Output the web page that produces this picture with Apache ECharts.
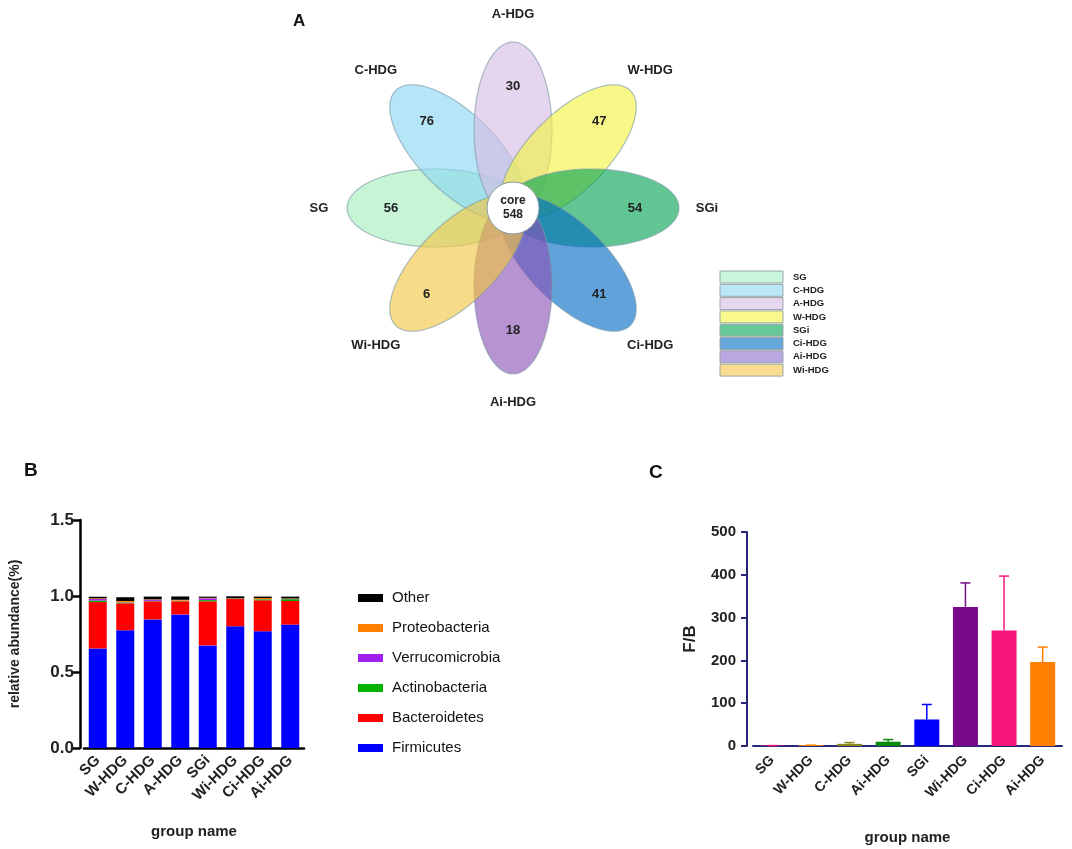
<!DOCTYPE html>
<html><head><meta charset="utf-8">
<script src="https://cdn.jsdelivr.net/npm/echarts@6/dist/echarts.min.js"></script>
<style>html,body{margin:0;padding:0;background:#fff}#c{width:1072px;height:849px}</style>
</head><body><div id="c"></div>
<script>
// ---- Panel A: flower Venn ----
const vennNames = ['SG','C-HDG','A-HDG','W-HDG','SGi','Ci-HDG','Ai-HDG','Wi-HDG'];
const vennCounts = [56,76,30,47,54,41,18,6];
const coreCount = 548;
// ---- Panel B: relative abundance ----
const groupsB = ['SG','W-HDG','C-HDG','A-HDG','SGi','Wi-HDG','Ci-HDG','Ai-HDG'];
const firmicutes      = [0.655,0.775,0.846,0.879,0.675,0.801,0.768,0.812];
const bacteroidetes   = [0.305,0.177,0.119,0.086,0.290,0.179,0.204,0.155];
const actinobacteria  = [0.010,0.005,0.003,0.002,0.008,0.002,0.006,0.012];
const verrucomicrobia = [0.010,0.002,0.007,0.002,0.012,0.001,0.001,0.001];
const proteobacteria  = [0.005,0.008,0.003,0.006,0.003,0.002,0.008,0.004];
const other           = [0.010,0.025,0.018,0.022,0.008,0.013,0.009,0.012];
const phylumNames = ['Firmicutes','Bacteroidetes','Actinobacteria','Verrucomicrobia','Proteobacteria','Other'];
const yTicksB = [0, 0.5, 1.0, 1.5];
// ---- Panel C: F/B ratio ----
const groupsC = ['SG','W-HDG','C-HDG','Ai-HDG','SGi','Wi-HDG','Ci-HDG','Ai-HDG'];
const fbMean = [1, 2, 5, 10, 62, 325, 270, 196];
const fbUpper = [1, 2, 8, 15, 97, 381, 397, 231];
const yTicksC = [0, 100, 200, 300, 400, 500];

const FONT = 'Arial, "Liberation Sans", sans-serif';
const vennFill = ['rgb(163,238,188)','rgb(138,213,243)','rgb(213,188,227)','rgb(243,243,63)','rgb(0,163,80)','rgb(0,105,197)','rgb(138,80,180)','rgb(243,197,63)'];
const vennShown = ['#c9f5dc','#bae6f8','#e6d7ee','#f8f88c','#66c896','#66a8dc','#baa6e0','#f8dc90'];
const phylumColors = ['#0000ff','#ff0000','#00b000','#a020f0','#ff8000','#000000'];
const cColors = ['#f0167c','#ff8c00','#8a8a1a','#0a8a0a','#0000ff','#7a0a8c','#f5157a','#ff8000'];

const chart = echarts.init(document.getElementById('c'), null, {renderer:'canvas'});

function petalItem(params, api){
  const i = api.value(0);
  const th = (180 - 45*i) * Math.PI/180;
  const d = 78, a = 88, b = 39;
  const cx = d*Math.cos(th), cy = d*Math.sin(th);
  const pts = [];
  for (let k=0;k<90;k++){
    const ph = k/90*2*Math.PI;
    const lx = a*Math.cos(ph), ly = b*Math.sin(ph);
    const x = cx + lx*Math.cos(th) - ly*Math.sin(th);
    const y = cy + lx*Math.sin(th) + ly*Math.cos(th);
    pts.push(api.coord([x,y]));
  }
  const np = api.coord([122*Math.cos(th), 122*Math.sin(th)]);
  const lp = api.coord([194*Math.cos(th), 194*Math.sin(th)]);
  const ly0 = 277 + i*13.3;
  return {type:'group', children:[
    {type:'polygon', shape:{points:pts}, style:{fill:vennFill[i], opacity:0.62, stroke:'#7b9aa6', lineWidth:1.2}},
    {type:'text', z2:100, style:{x:np[0], y:np[1], text:String(api.value(1)), font:'bold 13px '+FONT, fill:'#222', align:'center', verticalAlign:'middle'}},
    {type:'text', z2:100, style:{x:lp[0], y:lp[1], text:vennNames[i], font:'bold 13px '+FONT, fill:'#222', align:'center', verticalAlign:'middle'}},
    {type:'rect', z2:100, shape:{x:720, y:ly0-6, width:63, height:12}, style:{fill:vennShown[i], stroke:'#9aa6a8', lineWidth:1}},
    {type:'text', z2:100, style:{x:793, y:ly0, text:vennNames[i], font:'bold 9.5px '+FONT, fill:'#222', align:'left', verticalAlign:'middle'}}
  ]};
}

const barSeries = phylumNames.map((n, k) => ({
  name: n, type:'bar', stack:'b', xAxisIndex:0, yAxisIndex:0, barWidth:18,
  itemStyle:{color:phylumColors[k]},
  data:[firmicutes,bacteroidetes,actinobacteria,verrucomicrobia,proteobacteria,other][k]
}));

const option = {
  animation:false,
  backgroundColor:'#fff',
  title:[
    {text:'A', left:288, top:8, textStyle:{fontFamily:FONT, fontWeight:'bold', fontSize:17, color:'#111'}},
    {text:'B', left:19, top:456, textStyle:{fontFamily:FONT, fontWeight:'bold', fontSize:19, color:'#111'}},
    {text:'C', left:644, top:458, textStyle:{fontFamily:FONT, fontWeight:'bold', fontSize:19, color:'#111'}}
  ],
  legend:{
    data:['Other','Proteobacteria','Verrucomicrobia','Actinobacteria','Bacteroidetes','Firmicutes'],
    orient:'vertical', left:353, top:585, itemWidth:25, itemHeight:8, itemGap:14, icon:'rect',
    textStyle:{fontFamily:FONT, fontSize:15, color:'#111', lineHeight:16, padding:[0,0,0,4]}
  },
  grid:[
    {left:84, top:520, width:220, height:228},
    {left:753, top:532, width:309, height:214},
    {left:293, top:8, width:440, height:400}
  ],
  xAxis:[
    {type:'category', gridIndex:0, data:groupsB,
     name:'group name', nameLocation:'middle', nameGap:76,
     nameTextStyle:{fontFamily:FONT, fontWeight:'bold', fontSize:15, color:'#222'},
     axisLine:{lineStyle:{color:'#000', width:2.5}},
     axisTick:{alignWithLabel:true, length:7, lineStyle:{width:2.5, color:'#000'}},
     axisLabel:{interval:0, rotate:45, fontFamily:FONT, fontWeight:'bold', fontSize:15, color:'#222', margin:10, hideOverlap:false}},
    {type:'category', gridIndex:1, data:groupsC,
     name:'group name', nameLocation:'middle', nameGap:84,
     nameTextStyle:{fontFamily:FONT, fontWeight:'bold', fontSize:15, color:'#222'},
     axisLine:{lineStyle:{color:'#28287a', width:2}},
     axisTick:{alignWithLabel:true, length:7, lineStyle:{width:2, color:'#28287a'}},
     axisLabel:{interval:0, rotate:45, fontFamily:FONT, fontWeight:'bold', fontSize:14, color:'#222', margin:12}},
    {type:'value', gridIndex:2, min:-220, max:220, show:false}
  ],
  yAxis:[
    {type:'value', gridIndex:0, min:yTicksB[0], max:yTicksB[yTicksB.length-1], interval:0.5, offset:4,
     name:'relative abundance(%)', nameLocation:'middle', nameGap:58,
     nameTextStyle:{fontFamily:FONT, fontWeight:'bold', fontSize:14, color:'#222'},
     axisLine:{show:true, lineStyle:{color:'#000', width:2.5}},
     axisTick:{show:true, length:7, lineStyle:{width:2.5, color:'#000'}},
     splitLine:{show:false},
     axisLabel:{formatter:v=>v.toFixed(1), fontFamily:FONT, fontWeight:'bold', fontSize:17, color:'#222', margin:6}},
    {type:'value', gridIndex:1, min:yTicksC[0], max:yTicksC[yTicksC.length-1], interval:100, offset:6,
     name:'F/B', nameLocation:'middle', nameGap:48,
     nameTextStyle:{fontFamily:FONT, fontWeight:'bold', fontSize:17, color:'#222'},
     axisLine:{show:true, lineStyle:{color:'#28287a', width:2}},
     axisTick:{show:true, length:6, lineStyle:{width:2, color:'#28287a'}},
     splitLine:{show:false},
     axisLabel:{fontFamily:FONT, fontWeight:'bold', fontSize:15, color:'#222', margin:11}},
    {type:'value', gridIndex:2, min:-200, max:200, show:false}
  ],
  series:[
    ...barSeries,
    {type:'bar', name:'FB', xAxisIndex:1, yAxisIndex:1, barWidth:25,
     data: fbMean.map((v,i)=>({value:v, itemStyle:{color:cColors[i]}}))},
    {type:'custom', name:'FBerr', xAxisIndex:1, yAxisIndex:1, z:3,
     data: fbUpper.map((u,i)=>[i, fbMean[i], u]),
     renderItem:(params, api)=>{
       const i = api.value(0);
       const p0 = api.coord([i, api.value(1)]);
       const p1 = api.coord([i, api.value(2)]);
       const col = cColors[i];
       return {type:'group', children:[
         {type:'line', shape:{x1:p0[0], y1:p0[1], x2:p1[0], y2:p1[1]}, style:{stroke:col, lineWidth:1.5}},
         {type:'line', shape:{x1:p1[0]-5, y1:p1[1], x2:p1[0]+5, y2:p1[1]}, style:{stroke:col, lineWidth:1.5}}
       ]};
     }},
    {type:'custom', name:'venn', xAxisIndex:2, yAxisIndex:2, z:2,
     data: vennCounts.map((c,i)=>[i,c]), renderItem:petalItem},
    {type:'custom', name:'core', xAxisIndex:2, yAxisIndex:2, z:5,
     data:[[0,0,coreCount]],
     renderItem:(params, api)=>{
       const p = api.coord([api.value(0), api.value(1)]);
       return {type:'group', children:[
         {type:'circle', shape:{cx:p[0], cy:p[1], r:26}, style:{fill:'#fff', stroke:'#8a9aa0', lineWidth:1}},
         {type:'text', style:{x:p[0], y:p[1], text:'core\n'+api.value(2), font:'bold 12px '+FONT, fill:'#222', align:'center', verticalAlign:'middle', lineHeight:14}}
       ]};
     }}
  ]
};
chart.setOption(option);
</script></body></html>
